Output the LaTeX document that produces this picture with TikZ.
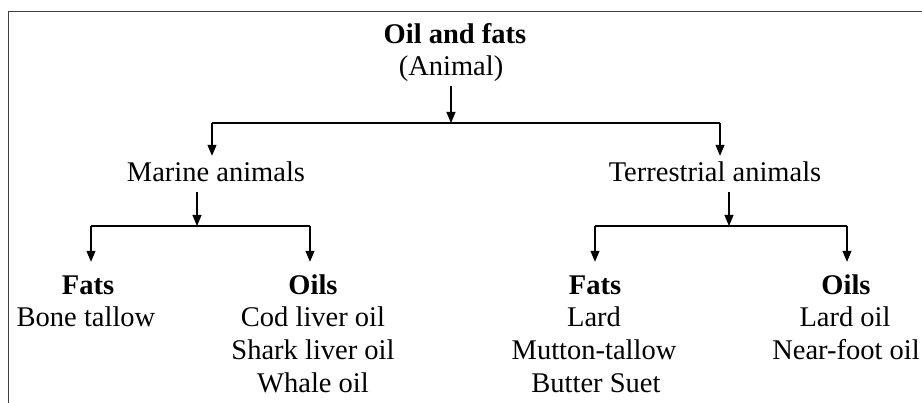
\documentclass[tikz,border=0pt]{standalone}
\usepackage{fontspec}
\setmainfont{Liberation Serif}
\usetikzlibrary{arrows.meta}
\begin{document}
\begin{tikzpicture}[x=1pt,y=-1pt,
  lbl/.style={inner xsep=0pt, inner ysep=6pt, text height=20pt, text depth=4pt,
              font=\fontsize{28.5}{33}\selectfont, anchor=base},
  hd/.style={lbl, font=\fontsize{28.5}{33}\selectfont\bfseries, inner ysep=13pt},
  ln/.style={line width=1.1pt, draw=black},
  arr/.style={ln, -{Triangle[length=11pt,width=9pt]}},
  frame/.style={line width=1.1pt, draw=black!75}]
\useasboundingbox (0,0) rectangle (922,403);
% frame
\coordinate (fb) at (8.5,420);
\coordinate (fc) at (8.5,11.5);
\coordinate (fr) at (940,11.5);
\draw[frame] (fb) -- (fc) -- (fr);
% nodes
\node[hd]  (title) at (455,44) {Oil and fats};
\node[lbl] (sub)   at (451,76) {(Animal)};
\node[lbl] (marine) at (216,182) {Marine animals};
\node[lbl] (terr)   at (715,182) {Terrestrial animals};
\node[hd]  (fats1) at (88,295) {Fats};
\node[lbl] (bone)  at (86,327) {Bone tallow};
\node[hd]  (oils1) at (313,295) {Oils};
\node[lbl] (cod)   at (313,327) {Cod liver oil};
\node[lbl] (shark) at (313,360) {Shark liver oil};
\node[lbl] (whale) at (313,393) {Whale oil};
\node[hd]  (fats2) at (595,295) {Fats};
\node[lbl] (lard)  at (594,327) {Lard};
\node[lbl] (mutton) at (594,360) {Mutton-tallow};
\node[lbl] (butter) at (596,393) {Butter Suet};
\node[hd]  (oils2) at (846,295) {Oils};
\node[lbl] (lardoil) at (845,327) {Lard oil};
\node[lbl] (nearfoot) at (846,360) {Near-foot oil};
% junction coordinates
\coordinate (j0)  at (451,123);
\coordinate (j0l) at (212,123);
\coordinate (j0r) at (720,123);
\coordinate (j1)  at (197,226);
\coordinate (j1l) at (91,226);
\coordinate (j1r) at (310,226);
\coordinate (j2)  at (729,226);
\coordinate (j2l) at (595,226);
\coordinate (j2r) at (847,226);
% connectors
\draw[arr] (sub.south) -- (j0);
\draw[ln] (j0l) -- (j0r);
\draw[arr] (j0l) -- (j0l |- marine.north);
\draw[arr] (j0r) -- (j0r |- terr.north);
\draw[arr] (marine.south -| j1) -- (j1);
\draw[ln] (j1l) -- (j1r);
\draw[arr] (j1l) -- (j1l |- fats1.north);
\draw[arr] (j1r) -- (j1r |- oils1.north);
\draw[arr] (terr.south -| j2) -- (j2);
\draw[ln] (j2l) -- (j2r);
\draw[arr] (j2l) -- (j2l |- fats2.north);
\draw[arr] (j2r) -- (j2r |- oils2.north);
\end{tikzpicture}
\end{document}
